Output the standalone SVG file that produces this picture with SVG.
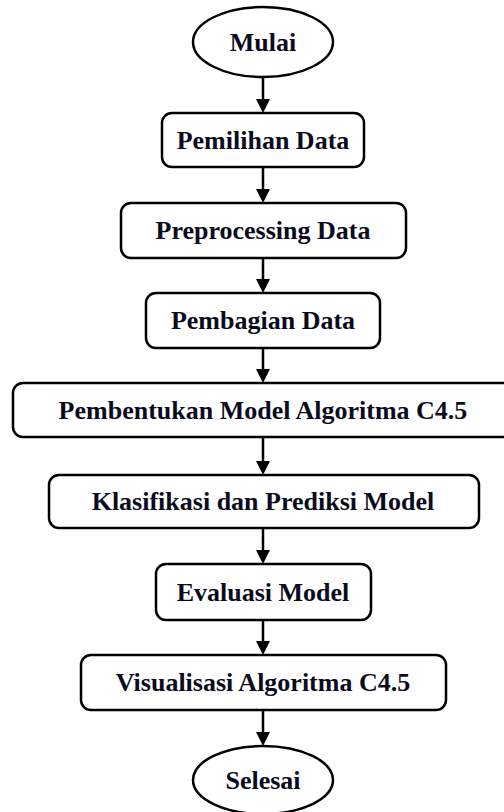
<svg xmlns="http://www.w3.org/2000/svg" width="504" height="812" viewBox="0 0 504 812">
<defs>
<style>
.box{fill:#fff;stroke:#000;stroke-width:2.5}
.lbl{font-family:"Liberation Serif","Times New Roman",serif;font-weight:bold;font-size:26px;fill:#0b0b1e;text-anchor:middle}
.con{stroke:#000;stroke-width:2.5;fill:none}
.head{fill:#000}
</style>
</defs>
<rect width="504" height="812" fill="#fff"/>
<g id="connectors">
<line class="con" x1="263" y1="77" x2="263" y2="100"/><path class="head" d="M256,99 L270,99 L263,113 Z"/>
<line class="con" x1="263" y1="167" x2="263" y2="190"/><path class="head" d="M256,189 L270,189 L263,203 Z"/>
<line class="con" x1="263" y1="258" x2="263" y2="280"/><path class="head" d="M256,279 L270,279 L263,293 Z"/>
<line class="con" x1="263" y1="348" x2="263" y2="370"/><path class="head" d="M256,369 L270,369 L263,383 Z"/>
<line class="con" x1="263" y1="437" x2="263" y2="462"/><path class="head" d="M256,461 L270,461 L263,475 Z"/>
<line class="con" x1="263" y1="528" x2="263" y2="551"/><path class="head" d="M256,550 L270,550 L263,564 Z"/>
<line class="con" x1="263" y1="620" x2="263" y2="642"/><path class="head" d="M256,641 L270,641 L263,655 Z"/>
<line class="con" x1="263" y1="710" x2="263" y2="733"/><path class="head" d="M256,732 L270,732 L263,746 Z"/>
</g>
<g id="mulai">
<ellipse class="box" cx="263" cy="42" rx="70" ry="35"/>
<text class="lbl" x="263" y="51">Mulai</text>
</g>
<g id="pemilihan">
<rect class="box" x="162" y="113" width="202" height="54" rx="10"/>
<text class="lbl" x="263" y="149">Pemilihan Data</text>
</g>
<g id="preprocessing">
<rect class="box" x="121" y="203" width="285" height="55" rx="10"/>
<text class="lbl" x="263" y="239">Preprocessing Data</text>
</g>
<g id="pembagian">
<rect class="box" x="146" y="293" width="234" height="55" rx="10"/>
<text class="lbl" x="263" y="329">Pembagian Data</text>
</g>
<g id="pembentukan">
<rect class="box" x="13" y="383" width="500" height="54" rx="10"/>
<text class="lbl" x="263" y="419">Pembentukan Model Algoritma C4.5</text>
</g>
<g id="klasifikasi">
<rect class="box" x="49" y="475" width="430" height="53" rx="10"/>
<text class="lbl" x="263" y="510">Klasifikasi dan Prediksi Model</text>
</g>
<g id="evaluasi">
<rect class="box" x="156" y="564" width="215" height="56" rx="10"/>
<text class="lbl" x="263" y="601">Evaluasi Model</text>
</g>
<g id="visualisasi">
<rect class="box" x="81" y="655" width="365" height="55" rx="10"/>
<text class="lbl" x="263" y="691">Visualisasi Algoritma C4.5</text>
</g>
<g id="selesai">
<ellipse class="box" cx="263" cy="780" rx="70" ry="34"/>
<text class="lbl" x="263" y="789">Selesai</text>
</g>
</svg>
